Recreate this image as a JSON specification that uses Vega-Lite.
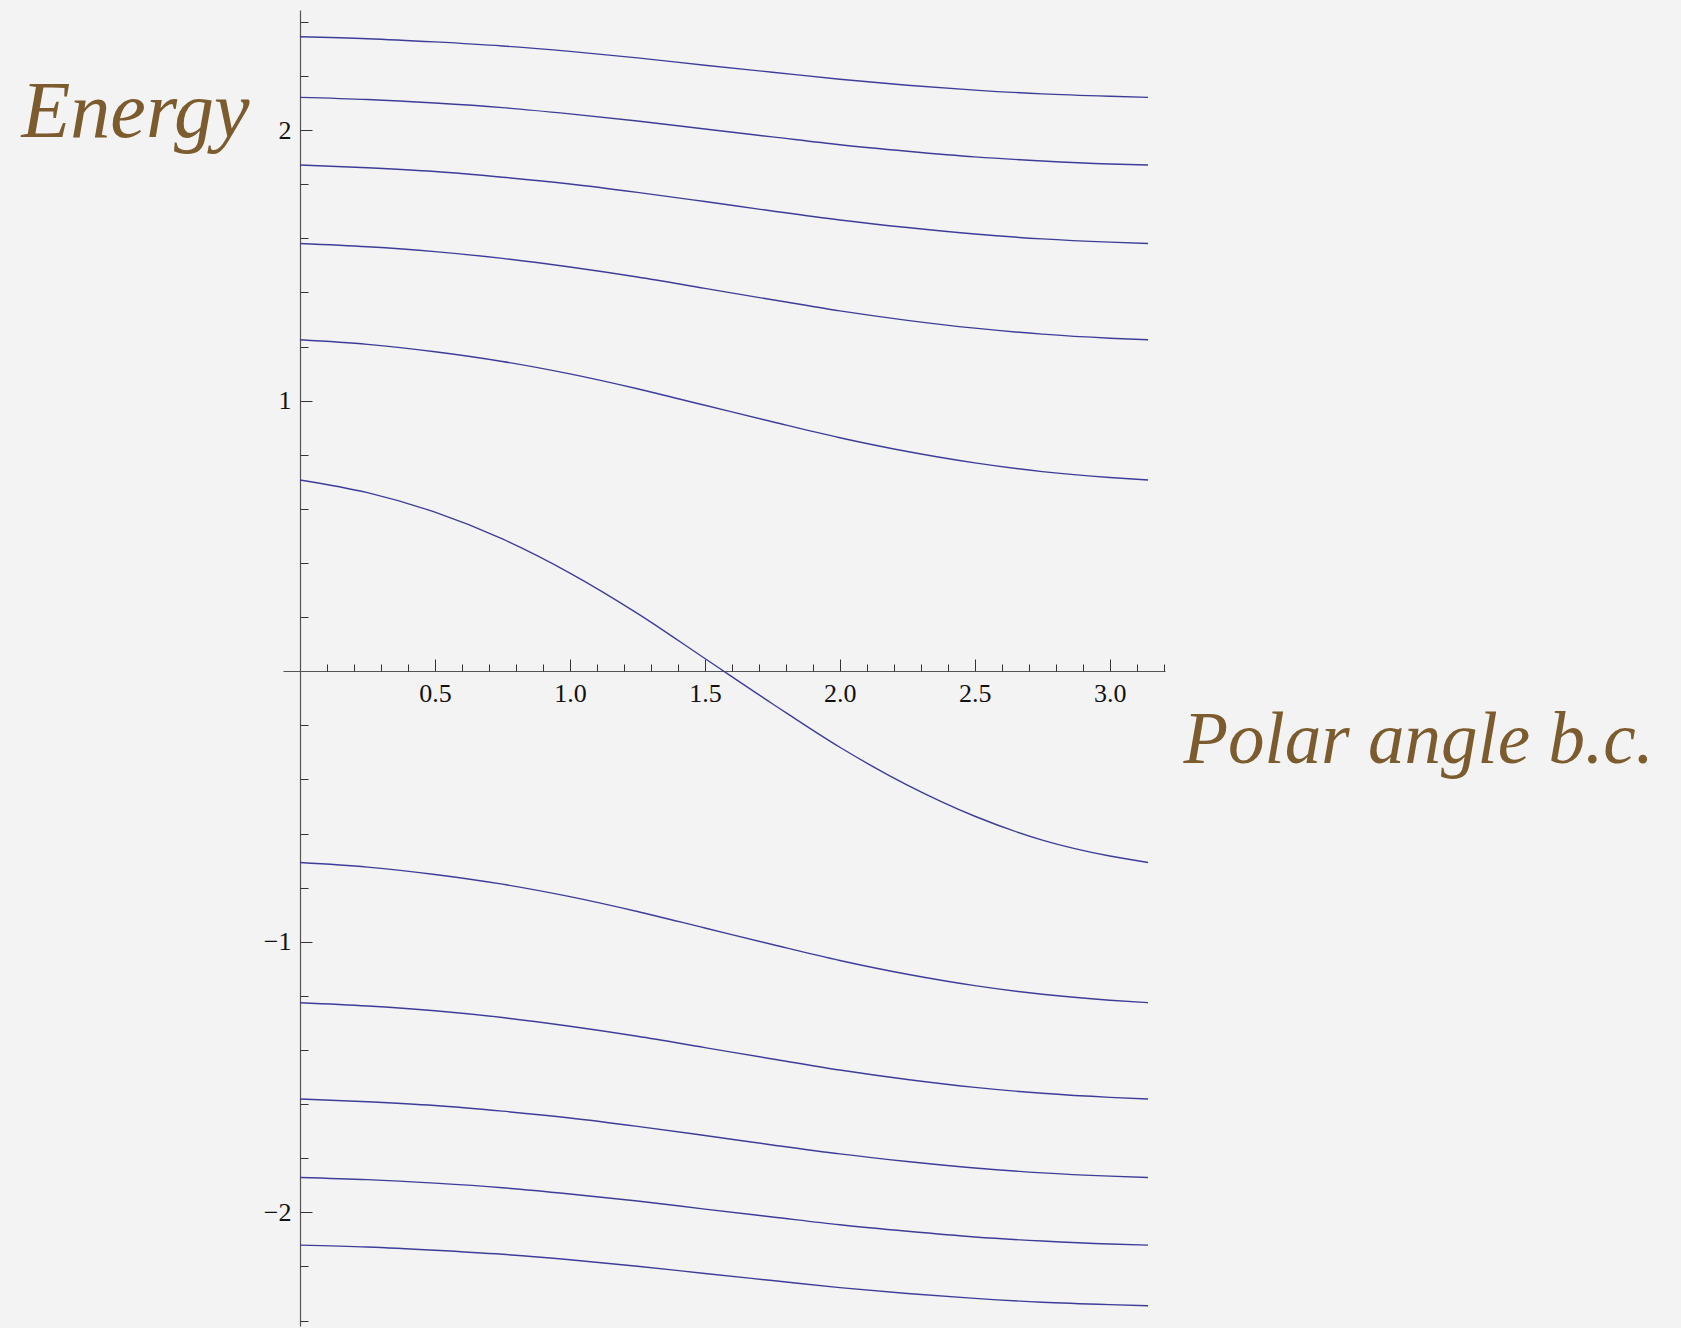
{
"$schema": "https://vega.github.io/schema/vega-lite/v6.json",
"width": 882, "height": 1316,
"autosize": {"type": "none"},
"padding": {"left": 283, "top": 10, "right": 516, "bottom": 2},
"background": "#f3f3f3",
"config": {"view": {"stroke": null}},
"data": {"values": [
{"c":1,"t":0,"e":2.345},{"c":1,"t":0.25,"e":2.338},{"c":1,"t":0.5,"e":2.326},{"c":1,"t":0.75,"e":2.311},{"c":1,"t":1,"e":2.291},{"c":1,"t":1.25,"e":2.267},{"c":1,"t":1.5,"e":2.240},{"c":1,"t":1.75,"e":2.214},{"c":1,"t":2,"e":2.188},{"c":1,"t":2.25,"e":2.166},{"c":1,"t":2.5,"e":2.148},{"c":1,"t":2.75,"e":2.134},{"c":1,"t":3,"e":2.125},{"c":1,"t":3.1416,"e":2.121},
{"c":2,"t":0,"e":2.121},{"c":2,"t":0.25,"e":2.113},{"c":2,"t":0.5,"e":2.100},{"c":2,"t":0.75,"e":2.083},{"c":2,"t":1,"e":2.060},{"c":2,"t":1.25,"e":2.034},{"c":2,"t":1.5,"e":2.004},{"c":2,"t":1.75,"e":1.975},{"c":2,"t":2,"e":1.946},{"c":2,"t":2.25,"e":1.922},{"c":2,"t":2.5,"e":1.901},{"c":2,"t":2.75,"e":1.886},{"c":2,"t":3,"e":1.875},{"c":2,"t":3.1416,"e":1.871},
{"c":3,"t":0,"e":1.871},{"c":3,"t":0.25,"e":1.861},{"c":3,"t":0.5,"e":1.847},{"c":3,"t":0.75,"e":1.826},{"c":3,"t":1,"e":1.801},{"c":3,"t":1.25,"e":1.770},{"c":3,"t":1.5,"e":1.736},{"c":3,"t":1.75,"e":1.701},{"c":3,"t":2,"e":1.668},{"c":3,"t":2.25,"e":1.640},{"c":3,"t":2.5,"e":1.616},{"c":3,"t":2.75,"e":1.598},{"c":3,"t":3,"e":1.586},{"c":3,"t":3.1416,"e":1.581},
{"c":4,"t":0,"e":1.581},{"c":4,"t":0.25,"e":1.569},{"c":4,"t":0.5,"e":1.551},{"c":4,"t":0.75,"e":1.526},{"c":4,"t":1,"e":1.494},{"c":4,"t":1.25,"e":1.457},{"c":4,"t":1.5,"e":1.415},{"c":4,"t":1.75,"e":1.373},{"c":4,"t":2,"e":1.332},{"c":4,"t":2.25,"e":1.297},{"c":4,"t":2.5,"e":1.268},{"c":4,"t":2.75,"e":1.246},{"c":4,"t":3,"e":1.231},{"c":4,"t":3.1416,"e":1.225},
{"c":5,"t":0,"e":1.225},{"c":5,"t":0.25,"e":1.208},{"c":5,"t":0.5,"e":1.181},{"c":5,"t":0.75,"e":1.145},{"c":5,"t":1,"e":1.099},{"c":5,"t":1.25,"e":1.044},{"c":5,"t":1.5,"e":0.983},{"c":5,"t":1.75,"e":0.922},{"c":5,"t":2,"e":0.863},{"c":5,"t":2.25,"e":0.812},{"c":5,"t":2.5,"e":0.770},{"c":5,"t":2.75,"e":0.738},{"c":5,"t":3,"e":0.716},{"c":5,"t":3.1416,"e":0.707},
{"c":6,"t":0,"e":0.707},{"c":6,"t":0.25,"e":0.660},{"c":6,"t":0.5,"e":0.588},{"c":6,"t":0.75,"e":0.489},{"c":6,"t":1,"e":0.363},{"c":6,"t":1.25,"e":0.214},{"c":6,"t":1.5,"e":0.047},{"c":6,"t":1.75,"e":-0.120},{"c":6,"t":2,"e":-0.281},{"c":6,"t":2.25,"e":-0.421},{"c":6,"t":2.5,"e":-0.536},{"c":6,"t":2.75,"e":-0.624},{"c":6,"t":3,"e":-0.683},{"c":6,"t":3.1416,"e":-0.707},
{"c":7,"t":0,"e":-0.707},{"c":7,"t":0.25,"e":-0.724},{"c":7,"t":0.5,"e":-0.751},{"c":7,"t":0.75,"e":-0.787},{"c":7,"t":1,"e":-0.833},{"c":7,"t":1.25,"e":-0.888},{"c":7,"t":1.5,"e":-0.949},{"c":7,"t":1.75,"e":-1.010},{"c":7,"t":2,"e":-1.069},{"c":7,"t":2.25,"e":-1.120},{"c":7,"t":2.5,"e":-1.162},{"c":7,"t":2.75,"e":-1.194},{"c":7,"t":3,"e":-1.216},{"c":7,"t":3.1416,"e":-1.225},
{"c":8,"t":0,"e":-1.225},{"c":8,"t":0.25,"e":-1.237},{"c":8,"t":0.5,"e":-1.255},{"c":8,"t":0.75,"e":-1.280},{"c":8,"t":1,"e":-1.312},{"c":8,"t":1.25,"e":-1.349},{"c":8,"t":1.5,"e":-1.391},{"c":8,"t":1.75,"e":-1.433},{"c":8,"t":2,"e":-1.474},{"c":8,"t":2.25,"e":-1.509},{"c":8,"t":2.5,"e":-1.538},{"c":8,"t":2.75,"e":-1.560},{"c":8,"t":3,"e":-1.575},{"c":8,"t":3.1416,"e":-1.581},
{"c":9,"t":0,"e":-1.581},{"c":9,"t":0.25,"e":-1.591},{"c":9,"t":0.5,"e":-1.605},{"c":9,"t":0.75,"e":-1.626},{"c":9,"t":1,"e":-1.651},{"c":9,"t":1.25,"e":-1.682},{"c":9,"t":1.5,"e":-1.716},{"c":9,"t":1.75,"e":-1.751},{"c":9,"t":2,"e":-1.784},{"c":9,"t":2.25,"e":-1.812},{"c":9,"t":2.5,"e":-1.836},{"c":9,"t":2.75,"e":-1.854},{"c":9,"t":3,"e":-1.866},{"c":9,"t":3.1416,"e":-1.871},
{"c":10,"t":0,"e":-1.871},{"c":10,"t":0.25,"e":-1.879},{"c":10,"t":0.5,"e":-1.892},{"c":10,"t":0.75,"e":-1.909},{"c":10,"t":1,"e":-1.932},{"c":10,"t":1.25,"e":-1.958},{"c":10,"t":1.5,"e":-1.988},{"c":10,"t":1.75,"e":-2.017},{"c":10,"t":2,"e":-2.046},{"c":10,"t":2.25,"e":-2.070},{"c":10,"t":2.5,"e":-2.091},{"c":10,"t":2.75,"e":-2.106},{"c":10,"t":3,"e":-2.117},{"c":10,"t":3.1416,"e":-2.121},
{"c":11,"t":0,"e":-2.121},{"c":11,"t":0.25,"e":-2.128},{"c":11,"t":0.5,"e":-2.140},{"c":11,"t":0.75,"e":-2.155},{"c":11,"t":1,"e":-2.175},{"c":11,"t":1.25,"e":-2.199},{"c":11,"t":1.5,"e":-2.226},{"c":11,"t":1.75,"e":-2.252},{"c":11,"t":2,"e":-2.278},{"c":11,"t":2.25,"e":-2.300},{"c":11,"t":2.5,"e":-2.318},{"c":11,"t":2.75,"e":-2.332},{"c":11,"t":3,"e":-2.341},{"c":11,"t":3.1416,"e":-2.345}
]},
"resolve": {"axis": {"x": "independent", "y": "independent"}},
"layer": [
{
"mark": {"type": "line", "color": "#3d3d99", "strokeWidth": 1.4, "interpolate": "monotone"},
"encoding": {
"x": {"field": "t", "type": "quantitative", "scale": {"domain": [-0.0628, 3.2044], "nice": false, "zero": false},
 "axis": {"orient": "bottom", "offset": -655, "values": [0.5,1,1.5,2,2.5,3], "format": ".1f", "ticks": false, "grid": false,
  "domain": true, "domainColor": "#555555", "domainWidth": 1.2,
  "labelFont": "Liberation Serif", "labelFontSize": 26, "labelColor": "#111111", "labelPadding": 9, "labelFlush": false, "labelOverlap": false, "labelBaseline": "top",
  "title": "Polar angle b.c.", "titleX": 900, "titleY": 91, "titleAngle": 0, "titleAlign": "left", "titleBaseline": "alphabetic",
  "titleFont": "Liberation Serif", "titleFontStyle": "italic", "titleFontWeight": "normal", "titleFontSize": 73, "titleColor": "#7c5c2e"}},
"y": {"field": "e", "type": "quantitative", "scale": {"domain": [-2.42, 2.444], "nice": false, "zero": false},
 "axis": {"orient": "left", "offset": -17, "values": [-2,-1,1,2], "format": "d", "ticks": false, "grid": false,
  "domain": true, "domainColor": "#555555", "domainWidth": 1.2,
  "labelFont": "Liberation Serif", "labelFontSize": 26, "labelColor": "#111111", "labelPadding": 9, "labelFlush": false, "labelOverlap": false, "labelBaseline": "middle",
  "title": "Energy", "titleX": -279, "titleY": 126, "titleAngle": 0, "titleAlign": "left", "titleBaseline": "alphabetic",
  "titleFont": "Liberation Serif", "titleFontStyle": "italic", "titleFontWeight": "normal", "titleFontSize": 80, "titleColor": "#7c5c2e"}},
"detail": {"field": "c", "type": "nominal"}
}
},
{
"mark": {"type": "line", "strokeOpacity": 0},
"encoding": {
"x": {"field": "t", "type": "quantitative",
 "axis": {"orient": "bottom", "offset": -655, "values": [0.5,1,1.5,2,2.5,3], "ticks": true, "tickSize": -12, "tickColor": "#333333", "tickWidth": 1, "labels": false, "domain": false, "grid": false, "title": null}},
"y": {"field": "e", "type": "quantitative",
 "axis": {"orient": "left", "offset": -17, "values": [-2,-1,1,2], "ticks": true, "tickSize": -12, "tickColor": "#333333", "tickWidth": 1, "labels": false, "domain": false, "grid": false, "title": null}},
"detail": {"field": "c", "type": "nominal"}
}
},
{
"mark": {"type": "line", "strokeOpacity": 0},
"encoding": {
"x": {"field": "t", "type": "quantitative",
 "axis": {"orient": "bottom", "offset": -655, "values": [0.1,0.2,0.3,0.4,0.6,0.7,0.8,0.9,1.1,1.2,1.3,1.4,1.6,1.7,1.8,1.9,2.1,2.2,2.3,2.4,2.6,2.7,2.8,2.9,3.1,3.2], "ticks": true, "tickSize": -7, "tickColor": "#333333", "tickWidth": 1, "labels": false, "domain": false, "grid": false, "title": null}},
"y": {"field": "e", "type": "quantitative",
 "axis": {"orient": "left", "offset": -17, "values": [-2.4,-2.2,-1.8,-1.6,-1.4,-1.2,-0.8,-0.6,-0.4,-0.2,0.2,0.4,0.6,0.8,1.2,1.4,1.6,1.8,2.2,2.4], "ticks": true, "tickSize": -8, "tickColor": "#333333", "tickWidth": 1, "labels": false, "domain": false, "grid": false, "title": null}},
"detail": {"field": "c", "type": "nominal"}
}
}
]
}
